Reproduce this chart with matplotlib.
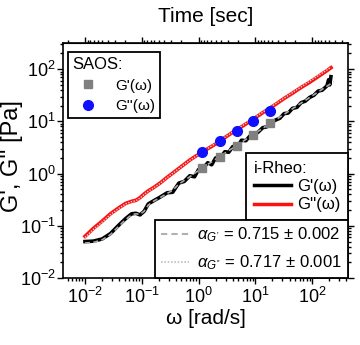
import matplotlib
matplotlib.use("Agg")
import matplotlib.pyplot as plt
from matplotlib.lines import Line2D
from matplotlib.ticker import LogLocator
import numpy as np

plt.rcParams['font.family'] = ['Liberation Sans', 'DejaVu Sans']
plt.rcParams['mathtext.fontset'] = 'custom'
plt.rcParams['mathtext.rm'] = 'Liberation Sans'
plt.rcParams['mathtext.it'] = 'Liberation Sans:italic'
plt.rcParams['mathtext.bf'] = 'Liberation Sans:bold'

# i-Rheo G' (black)
w_g1 = [0.010, 0.014, 0.020, 0.028, 0.040, 0.052, 0.066, 0.079, 0.093, 0.110,
        0.13, 0.16, 0.21, 0.28, 0.35, 0.45, 0.56, 0.70, 0.85, 1.0,
        1.2, 1.45, 1.7, 2.0, 2.4, 2.9, 3.4, 4.0, 4.8, 5.7,
        6.8, 8.0, 9.5, 11.3, 13.5, 16, 19, 23, 27, 32,
        38, 45, 54, 64, 76, 90, 107, 127, 151, 182, 195, 204, 214]
g1 = [0.050, 0.051, 0.056, 0.071, 0.105, 0.138, 0.170, 0.174, 0.162, 0.19,
      0.263, 0.30, 0.355, 0.43, 0.44, 0.66, 0.71, 0.91, 0.87, 1.20,
      1.26, 1.62, 1.48, 2.0, 2.0, 2.63, 2.57, 3.3, 3.24, 4.37,
      4.27, 5.25, 5.5, 6.3, 7.6, 7.9, 9.5, 10.7, 11.5, 14.1,
      14.5, 17.8, 18.6, 22.9, 24.5, 28.8, 31.6, 38.0, 39.8, 48.0, 63.0, 50.0, 72.0]

# i-Rheo G'' (red)
w_g2 = [0.010, 0.014, 0.020, 0.028, 0.040, 0.052, 0.066, 0.079, 0.093, 0.110,
        0.13, 0.16, 0.21, 0.28, 0.35, 0.45, 0.56, 0.70, 0.85, 1.0,
        1.45, 2.0, 2.9, 4.0, 5.7, 8.0, 11.3, 16, 23, 32,
        45, 64, 90, 127, 180, 215]
g2 = [0.063, 0.089, 0.123, 0.170, 0.224, 0.269, 0.295, 0.309, 0.347, 0.407,
      0.468, 0.537, 0.66, 0.85, 1.02, 1.26, 1.51, 1.82, 2.09, 2.34,
      3.0, 3.7, 4.9, 6.2, 7.9, 10.0, 12.9, 16.6, 21.4, 27.5,
      34.7, 44.7, 56.0, 72.0, 93.0, 107.0]

# fits
w_fit1 = [0.010, 0.014, 0.020, 0.028, 0.040, 0.052, 0.066, 0.079, 0.093, 0.110,
          0.13, 0.16, 0.21, 0.28, 0.35, 0.45, 0.56, 0.70, 1.0, 10.0, 100.0, 240.0]
fit1 = [0.047, 0.048, 0.054, 0.068, 0.100, 0.132, 0.162, 0.170, 0.166, 0.19,
        0.25, 0.295, 0.347, 0.417, 0.48, 0.63, 0.74, 0.87, 1.15, 5.96, 30.9, 57.5]
w_fit2 = [0.010, 0.014, 0.020, 0.028, 0.040, 0.052, 0.066, 0.079, 0.093, 0.110,
          0.13, 0.16, 0.21, 0.28, 0.35, 0.45, 0.56, 0.70, 1.0, 10.0, 100.0, 215.0]
fit2 = [0.060, 0.085, 0.118, 0.165, 0.219, 0.263, 0.290, 0.305, 0.34, 0.40,
        0.46, 0.53, 0.65, 0.84, 1.01, 1.25, 1.50, 1.80, 2.32, 12.1, 63.0, 109.0]

# SAOS
w_saos = [1.17, 2.35, 4.7, 9.1, 18.2]
g1_saos = [1.3, 2.1, 3.4, 5.5, 9.3]
g2_saos = [2.6, 4.3, 6.6, 10.2, 15.8]

fig = plt.figure(figsize=(3.6, 3.45), dpi=100)
ax = fig.add_axes([0.175, 0.194, 0.792, 0.681])

ax.plot(w_g1, g1, color='black', lw=2.6, zorder=2)
ax.plot(w_fit1, fit1, color='#a8a8a8', lw=1.2, ls=(0, (3, 2)), zorder=3)
ax.plot(w_g2, g2, color='#ff1010', lw=2.6, zorder=2)
ax.plot(w_fit2, fit2, color='#d8d8d8', lw=1.0, ls=(0, (1, 1)), zorder=3)
ax.plot(w_saos, g1_saos, 's', color='#808080', ms=6, zorder=4)
ax.plot(w_saos, g2_saos, 'o', color='#1010ff', ms=7, zorder=4)

ax.set_xscale('log')
ax.set_yscale('log')
ax.set_xlim(0.0041, 430)
ax.set_ylim(0.01, 316)
for a in (ax.xaxis, ax.yaxis):
    a.set_major_locator(LogLocator(base=10, numticks=20))
    a.set_minor_locator(LogLocator(base=10, subs=np.arange(2, 10), numticks=20))

ax.tick_params(which='both', direction='out', top=False, right=True, labelsize=13, width=1)
ax.tick_params(which='major', length=4)
ax.tick_params(which='minor', length=2)
ax.tick_params(axis='x', pad=2)
ax.tick_params(axis='y', pad=1)
for s in ax.spines.values():
    s.set_linewidth(1.2)

sec = ax.secondary_xaxis('top', functions=(lambda w: 1 / w, lambda t: 1 / t))
sec.tick_params(which='both', direction='out', labeltop=False, width=1)
sec.tick_params(which='major', length=4)
sec.tick_params(which='minor', length=2)
sec.set_xlabel('Time [sec]', fontsize=15, labelpad=11)

ax.set_xlabel('ω [rad/s]', fontsize=15, labelpad=2)
ax.set_ylabel("G', G'' [Pa]", fontsize=17)
ax.yaxis.set_label_coords(-0.142, 0.52)

leg_kw = dict(frameon=True, fancybox=False, framealpha=1, edgecolor='black',
              borderaxespad=0)

h1 = [Line2D([], [], ls='none', marker='s', color='#808080', ms=6),
      Line2D([], [], ls='none', marker='o', color='#1010ff', ms=7)]
leg1 = ax.legend(h1, ["G'(ω)", "G''(ω)"], title='SAOS:', title_fontsize=12, fontsize=11,
                 loc='upper left', bbox_to_anchor=(0.018, 0.962), handlelength=2.0,
                 handletextpad=0.8, labelspacing=0.45, borderpad=0.3, **leg_kw)
leg1._legend_box.align = 'left'
leg1.get_frame().set_linewidth(1.3)
ax.add_artist(leg1)

h2 = [Line2D([], [], color='black', lw=2.5), Line2D([], [], color='#ff1010', lw=2.5)]
leg2 = ax.legend(h2, ["G'(ω)", "G''(ω)"], title='i-Rheo:', title_fontsize=12, fontsize=12,
                 loc='lower right', bbox_to_anchor=(1.0, 0.251), handlelength=2.2,
                 handletextpad=0.4, labelspacing=0.2, borderpad=0.45, **leg_kw)
leg2._legend_box.align = 'left'
leg2.get_frame().set_linewidth(1.3)
ax.add_artist(leg2)

h3 = [Line2D([], [], color='#b0b0b0', lw=1.5, ls=(0, (3, 2))),
      Line2D([], [], color='#c0c0c0', lw=1.2, ls=(0, (1, 1)))]
leg3 = ax.legend(h3, [r"$\alpha_{G'}$ = 0.715 ± 0.002", r"$\alpha_{G''}$ = 0.717 ± 0.001"],
                 fontsize=12, loc='lower right', bbox_to_anchor=(1.0, 0.0), handlelength=1.7,
                 handletextpad=0.5, labelspacing=0.55, borderpad=0.35, **leg_kw)
leg3.get_frame().set_linewidth(1.3)

# stack the i-Rheo box right on top of the fit box
fig.canvas.draw()
bb = leg3.get_window_extent().transformed(ax.transAxes.inverted())
leg2.set_bbox_to_anchor((1.0, bb.y1), transform=ax.transAxes)

fig.savefig('out.png', dpi=100)
